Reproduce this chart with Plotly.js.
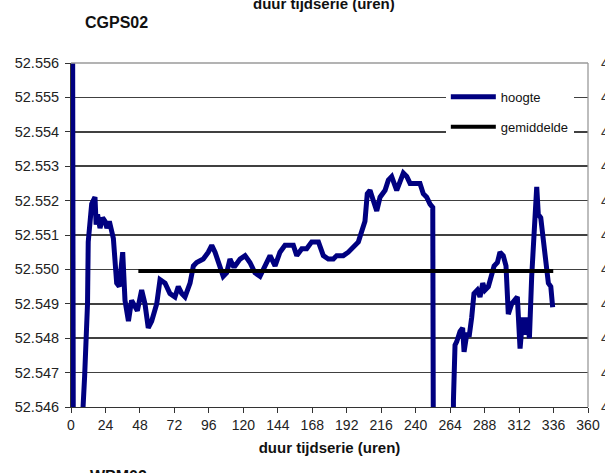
<!DOCTYPE html>
<html>
<head>
<meta charset="utf-8">
<script src="https://cdn.plot.ly/plotly-3.0.1.min.js"></script>
<style>html,body{margin:0;padding:0;background:#fff;}</style>
</head>
<body>
<div id="chart" style="width:605px;height:473px;"></div>
<script>
var hours = [1.0,1.8,7.6,8.4,9.5,11.5,12.0,14.4,16.7,17.5,18.5,20.2,22.0,23.7,25.0,26.7,29.5,31.8,33.6,36.0,37.6,40.0,42.2,44.6,46.2,49.2,51.5,53.8,56.2,59.7,62.0,65.5,68.9,72.4,74.7,77.1,79.4,82.9,85.2,87.5,92.1,95.6,98.0,100.3,102.6,106.0,108.4,110.7,113.0,114.2,117.7,121.2,124.6,128.1,131.6,135.1,138.6,142.1,145.5,149.0,152.5,154.8,157.2,160.7,164.1,167.6,172.3,175.7,179.2,182.7,185.0,189.6,193.1,195.5,197.8,200.1,202.4,204.7,206.3,208.2,210.5,212.9,215.2,218.7,221.0,223.3,226.8,229.1,231.4,233.8,236.1,239.6,243.0,245.3,247.7,250.0,251.9,252.6,265.6,266.3,267.4,268.6,270.9,272.7,273.7,275.5,277.4,279.0,280.6,282.9,284.8,286.7,288.3,290.6,292.3,294.6,296.9,298.7,301.0,302.9,304.5,306.9,310.8,312.7,314.5,316.2,317.8,319.2,320.8,322.4,324.3,325.4,327.1,328.5,330.1,331.2,332.4,334.1,335.4];
var hoogte = [52.5600,52.5400,52.5400,52.5460,52.5469,52.5490,52.5508,52.5519,52.5521,52.5513,52.5516,52.5512,52.5515,52.5514,52.5512,52.5514,52.5509,52.5496,52.5495,52.5505,52.5491,52.5485,52.5491,52.5489,52.5488,52.5494,52.5490,52.5483,52.5485,52.5490,52.5497,52.5496,52.5493,52.5492,52.5495,52.5493,52.5492,52.5496,52.5501,52.5502,52.5503,52.5505,52.5507,52.5505,52.5502,52.5498,52.5499,52.5503,52.5501,52.5501,52.5503,52.5504,52.5502,52.5499,52.5498,52.5501,52.5504,52.5501,52.5505,52.5507,52.5507,52.5507,52.5504,52.5506,52.5506,52.5508,52.5508,52.5504,52.5503,52.5503,52.5504,52.5504,52.5505,52.5506,52.5507,52.5508,52.5511,52.5514,52.5522,52.5523,52.5520,52.5517,52.5521,52.5523,52.5526,52.5527,52.5523,52.5526,52.5528,52.5527,52.5525,52.5525,52.5525,52.5522,52.5521,52.5519,52.5518,52.5400,52.5400,52.5462,52.5478,52.5479,52.5482,52.5483,52.5476,52.5481,52.5481,52.5486,52.5493,52.5494,52.5492,52.5496,52.5494,52.5495,52.5498,52.5501,52.5502,52.5505,52.5504,52.5501,52.5487,52.5490,52.5492,52.5477,52.5486,52.5481,52.5486,52.5480,52.5498,52.5510,52.5524,52.5516,52.5515,52.5510,52.5504,52.5503,52.5496,52.5495,52.5489];
var meanHours = [46.9, 335.8];
var gemiddelde = [52.54995, 52.54995];
var xTicks = [0,24,48,72,96,120,144,168,192,216,240,264,288,312,336,360];
var yTicks = [52.546,52.547,52.548,52.549,52.550,52.551,52.552,52.553,52.554,52.555,52.556];
var chartTitle = 'CGPS02';
var xTitle = 'duur tijdserie (uren)';
var nextChartTitle = 'WPM02';
var neighbourLabel = '4';

var traces = [
  {x: hours, y: hoogte, type:'scatter', mode:'lines', name:'hoogte', legendgroup:'a',
   line:{color:'#000080', width:5}},
  {x: meanHours, y: gemiddelde, type:'scatter', mode:'lines', name:'gemiddelde', legendgroup:'b',
   line:{color:'#000000', width:4}}
];

var annotations = [
  {xref:'paper', yref:'paper', x:0.023, y:1.119, xanchor:'left', yanchor:'middle', showarrow:false,
   text:'<b>'+chartTitle+'</b>', font:{size:16, color:'#111'}},
  {xref:'paper', yref:'paper', x:0.489, y:1.1744, xanchor:'center', yanchor:'middle', showarrow:false,
   text:'<b>'+xTitle+'</b>', font:{size:15, color:'#111'}},
  {xref:'paper', yref:'paper', x:0.033, y:-0.2006, xanchor:'left', yanchor:'middle', showarrow:false,
   text:'<b>'+nextChartTitle+'</b>', font:{size:16, color:'#111'}}
];
yTicks.forEach(function(v){
  annotations.push({xref:'paper', yref:'y', x:1.0213, y:v, xanchor:'left', yanchor:'middle', showarrow:false,
    text:neighbourLabel, font:{size:14, color:'#333'}});
});

var layout = {
  width:605, height:473,
  margin:{l:71, r:17, t:63, b:66},
  paper_bgcolor:'#ffffff', plot_bgcolor:'#ffffff',
  font:{family:'Arial, "Liberation Sans", sans-serif', size:14, color:'#222'},
  showlegend:true,
  xaxis:{range:[0,360], tickvals:xTicks, ticks:'outside', ticklen:5, tickcolor:'#333', tickwidth:1,
    showgrid:false, showline:true, linecolor:'#333', linewidth:1, zeroline:false,
    tickfont:{size:14, color:'#222'},
    title:{text:'<b>'+xTitle+'</b>', font:{size:15, color:'#111'}, standoff:10}},
  yaxis:{range:[52.546,52.556], tickvals:yTicks, tickformat:'.3f', ticks:'outside', ticklen:5, tickcolor:'#333',
    ticklabelstandoff:3,
    showgrid:true, gridcolor:'#404040', gridwidth:1.6, showline:true, linecolor:'#333', linewidth:1, zeroline:false,
    tickfont:{size:14.5, color:'#222'}},
  legend:{x:0.725, y:0.945, xanchor:'left', yanchor:'top', bgcolor:'#ffffff', borderwidth:0,
    font:{size:13, color:'#111'}, tracegroupgap:10, traceorder:'grouped', itemwidth:45},
  shapes:[
    {type:'line', xref:'paper', yref:'paper', x0:0, x1:1, y0:1, y1:1, line:{color:'#9a9a9a', width:1.3}},
    {type:'line', xref:'paper', yref:'paper', x0:1, x1:1, y0:0, y1:1, line:{color:'#9a9a9a', width:1.3}}
  ],
  annotations:annotations
};

Plotly.newPlot('chart', traces, layout, {displayModeBar:false, staticPlot:true});
</script>
</body>
</html>
